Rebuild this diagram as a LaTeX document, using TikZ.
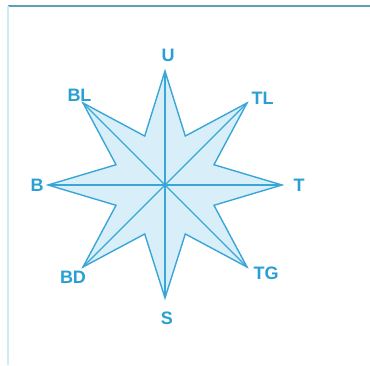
\documentclass[tikz,border=0pt]{standalone}
\usepackage{fontspec}
\setmainfont{Liberation Sans}
\definecolor{starline}{HTML}{3AA6D8}
\definecolor{starfill}{HTML}{D8EFF9}
\definecolor{labcol}{HTML}{2A9FD6}
\definecolor{topline}{HTML}{5E9FB5}
\definecolor{leftline}{HTML}{C9EFF3}
\begin{document}
\begin{tikzpicture}[x=1pt,y=-1pt,
  lab/.style={text=labcol,font=\bfseries\fontsize{18}{18}\selectfont,inner sep=0pt},
  starpath/.style={draw=starline,fill=starfill,line width=1.4pt,line join=miter},
  ray/.style={draw=starline,line width=1.3pt}]
\useasboundingbox (0,0) rectangle (370,365);
\fill[white] (0,0) rectangle (370,365);
\draw[topline,line width=1.2pt] (8,6) -- (370,6);
\draw[leftline,line width=1.5pt] (8,6) -- (8,365);
\begin{scope}[shift={(165,185)},yscale=-1]
  \coordinate (O) at (0,0);
  \coordinate (U) at (90:114);
  \coordinate (TL) at (45:116);
  \coordinate (T) at (0:117);
  \coordinate (TG) at (-45:116);
  \coordinate (S) at (-90:113);
  \coordinate (BD) at (-135:116);
  \coordinate (B) at (180:117);
  \coordinate (BL) at (135:116);
  \path[starpath] (U) -- (67.5:53) -- (TL) -- (22.5:53) -- (T) -- (-22.5:53) -- (TG) -- (-67.5:53)
    -- (S) -- (-112.5:53) -- (BD) -- (-157.5:53) -- (B) -- (157.5:53) -- (BL) -- (112.5:53) -- cycle;
\end{scope}
\draw[ray] (U) -- (S);
\draw[ray] (B) -- (T);
\draw[ray] (BL) -- (TG);
\draw[ray] (TL) -- (BD);
\node[lab] (lU) at (168,55) {U};
\node[lab] (lBL) at (79.5,95) {BL};
\node[lab] (lTL) at (262.5,98) {TL};
\node[lab] (lB) at (37,185) {B};
\node[lab] (lT) at (299,185) {T};
\node[lab] (lBD) at (73,277) {BD};
\node[lab] (lS) at (167,318) {S};
\node[lab] (lTG) at (266,273) {TG};
\end{tikzpicture}
\end{document}
